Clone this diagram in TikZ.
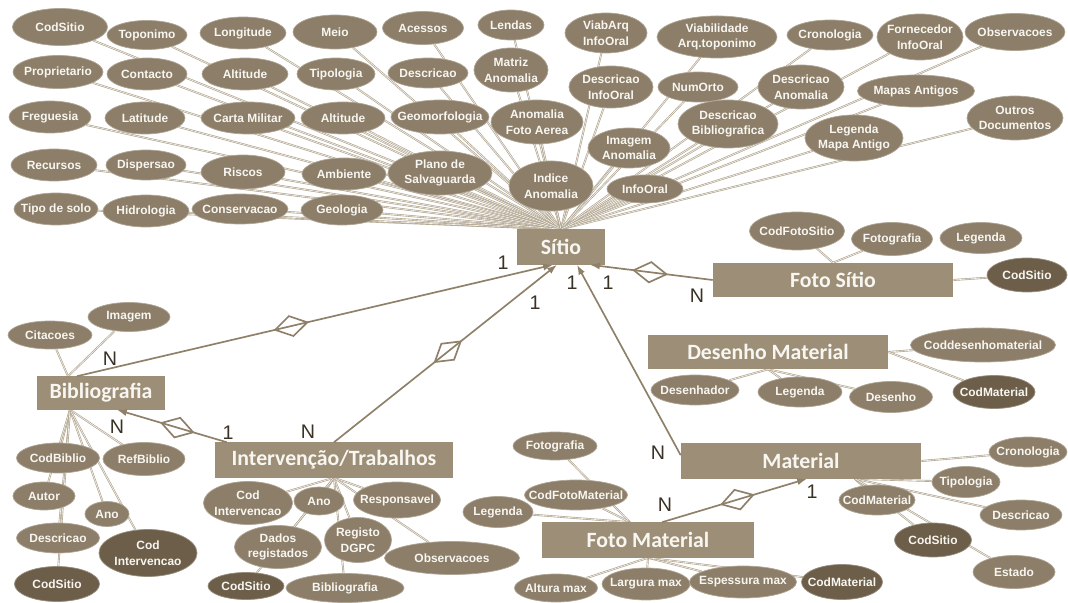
\documentclass[tikz,border=0pt]{standalone}
\usepackage{fontspec}
\setmainfont{Liberation Sans}
\newfontfamily\entfont{Carlito}
\usetikzlibrary{shapes.geometric, arrows.meta, backgrounds, calc}

\definecolor{attrfill}{HTML}{8C7E68}
\definecolor{keyfill}{HTML}{6C5E49}
\definecolor{entfill}{HTML}{9D8F77}
\definecolor{lighttext}{HTML}{F8F6F1}
\definecolor{attrline}{HTML}{AFA38C}
\definecolor{relline}{HTML}{8F8169}
\definecolor{cardtext}{HTML}{3A3225}

\tikzset{
  sz/.style 2 args={minimum width={#1*0.7113pt}, minimum height={#2*0.7113pt}},
  attr/.style={ellipse, fill=attrfill, draw=attrfill!70!white, line width=0.5pt,
    text=lighttext, inner xsep=-12pt, inner ysep=0pt, align=center,
    font=\fontsize{8.5}{11}\selectfont\bfseries},
  keyattr/.style={attr, fill=keyfill, draw=keyfill!70!white},
  entity/.style={rectangle, fill=entfill, text=lighttext, inner sep=0pt,
    font=\entfont\fontsize{15.5}{18}\selectfont\bfseries},
  link/.style={draw=attrline, line width=0.45pt, double=white!85!attrline, double distance=0.45pt},
  rel/.style={relline, line width=1.2pt},
  relbox/.style={diamond, draw=relline, line width=1.2pt, inner sep=0pt,
    minimum width=24pt, minimum height=15pt, sloped},
  card/.style={text=cardtext, font=\fontsize{14}{14}\selectfont},
}

\begin{document}
\begin{tikzpicture}[x=0.025cm, y=-0.025cm]
\useasboundingbox (0,0) rectangle (1068,603);

% entities
\node[entity, sz={88}{35}] (Sitio) at (561,247) {Sítio};
\node[entity, sz={240}{34}] (FotoSitio) at (833,280) {Foto Sítio};
\node[entity, sz={128}{33}] (Biblio) at (101,393) {Bibliografia};
\node[entity, sz={238}{35}] (Interv) at (334,460) {Intervenção/Trabalhos};
\node[entity, sz={240}{34}] (DesMat) at (768,352) {Desenho Material};
\node[entity, sz={240}{35}] (Mat) at (801,461) {Material};
\node[entity, sz={212}{35}] (FotoMat) at (648,540) {Foto Material};

% Sitio attributes
\node[attr, sz={95}{37}] (s1) at (60,27) {CodSitio};
\node[attr, sz={80}{29}] (s2) at (147,35) {Toponimo};
\node[attr, sz={86}{32}] (s3) at (243,33) {Longitude};
\node[attr, sz={84}{34}] (s4) at (335,32) {Meio};
\node[attr, sz={81}{33}] (s5) at (423,28) {Acessos};
\node[attr, sz={66}{30}] (s6) at (511,25) {Lendas};
\node[attr, sz={82}{40}] (s7) at (606,33) {ViabArq\\InfoOral};
\node[attr, sz={120}{42}] (s8) at (717,37) {Viabilidade\\Arq.toponimo};
\node[attr, sz={86}{30}] (s9) at (830,35) {Cronologia};
\node[attr, sz={86}{46}] (s10) at (920,37) {Fornecedor\\InfoOral};
\node[attr, sz={100}{37}] (s11) at (1015,32) {Observacoes};
\node[attr, sz={90}{33}] (s12) at (58,72) {Proprietario};
\node[attr, sz={80}{32}] (s13) at (147,74) {Contacto};
\node[attr, sz={86}{32}] (s14) at (245,74) {Altitude};
\node[attr, sz={78}{32}] (s15) at (336,74) {Tipologia};
\node[attr, sz={80}{30}] (s16) at (428,73) {Descricao};
\node[attr, sz={74}{44}] (s17) at (511,70) {Matriz\\Anomalia};
\node[attr, sz={84}{42}] (s18) at (611,87) {Descricao\\InfoOral};
\node[attr, sz={80}{30}] (s19) at (698,87) {NumOrto};
\node[attr, sz={86}{44}] (s20) at (801,87) {Descricao\\Anomalia};
\node[attr, sz={117}{32}] (s21) at (916,91) {Mapas Antigos};
\node[attr, sz={96}{44}] (s22) at (1015,118) {Outros\\Documentos};
\node[attr, sz={82}{32}] (s23) at (50,117) {Freguesia};
\node[attr, sz={80}{32}] (s24) at (145,118) {Latitude};
\node[attr, sz={94}{32}] (s25) at (248,118) {Carta Militar};
\node[attr, sz={84}{32}] (s26) at (343,118) {Altitude};
\node[attr, sz={98}{34}] (s27) at (440,117) {Geomorfologia};
\node[attr, sz={92}{44}] (s28) at (537,122) {Anomalia\\Foto Aerea};
\node[attr, sz={82}{40}] (s29) at (629,148) {Imagem\\Anomalia};
\node[attr, sz={100}{48}] (s30) at (728,124) {Descricao\\Bibliografica};
\node[attr, sz={98}{46}] (s31) at (854,138) {Legenda\\Mapa Antigo};
\node[attr, sz={86}{32}] (s32) at (54,165) {Recursos};
\node[attr, sz={80}{30}] (s33) at (146,165) {Dispersao};
\node[attr, sz={84}{34}] (s34) at (243,172) {Riscos};
\node[attr, sz={84}{32}] (s35) at (344,174) {Ambiente};
\node[attr, sz={104}{44}] (s36) at (440,173) {Plano de\\Salvaguarda};
\node[attr, sz={84}{50}] (s37) at (551,186) {Indice\\Anomalia};
\node[attr, sz={76}{28}] (s38) at (645,189) {InfoOral};
\node[attr, sz={84}{32}] (s39) at (56,209) {Tipo de solo};
\node[attr, sz={86}{32}] (s40) at (146,211) {Hidrologia};
\node[attr, sz={96}{30}] (s41) at (240,209) {Conservacao};
\node[attr, sz={82}{30}] (s42) at (342,210) {Geologia};

% Foto Sitio attributes
\node[attr, sz={95}{38}] (f1) at (797,231) {CodFotoSitio};
\node[attr, sz={81}{33}] (f2) at (892,239) {Fotografia};
\node[attr, sz={82}{31}] (f3) at (981,238) {Legenda};
\node[keyattr, sz={80}{34}] (f4) at (1027,275) {CodSitio};

% Bibliografia attributes
\node[attr, sz={84}{28}] (b8) at (50,335) {Citacoes};
\node[attr, sz={82}{29}] (b9) at (129,317) {Imagem};
\node[attr, sz={83}{30}] (b1) at (58,458) {CodBiblio};
\node[attr, sz={82}{33}] (b2) at (144,459) {RefBiblio};
\node[attr, sz={62}{28}] (b3) at (44,496) {Autor};
\node[attr, sz={44}{25}] (b4) at (107,514) {Ano};
\node[attr, sz={83}{30}] (b5) at (58,538) {Descricao};
\node[keyattr, sz={98}{47}] (b6) at (148,553) {Cod\\Intervencao};
\node[keyattr, sz={85}{35}] (b7) at (57,584) {CodSitio};

% Intervencao attributes
\node[attr, sz={89}{43}] (i1) at (248,503) {Cod\\Intervencao};
\node[attr, sz={50}{28}] (i2) at (319,501) {Ano};
\node[attr, sz={87}{36}] (i3) at (397,500) {Responsavel};
\node[attr, sz={87}{43}] (i4) at (278,547) {Dados\\registados};
\node[attr, sz={67}{45}] (i5) at (358,540) {Registo\\DGPC};
\node[attr, sz={135}{33}] (i6) at (452,558) {Observacoes};
\node[keyattr, sz={76}{27}] (i7) at (246,586) {CodSitio};
\node[attr, sz={118}{29}] (i8) at (345,588) {Bibliografia};

% Desenho Material attributes
\node[attr, sz={145}{34}] (d1) at (983,345) {Coddesenhomaterial};
\node[keyattr, sz={82}{33}] (d2) at (994,392) {CodMaterial};
\node[attr, sz={88}{30}] (d3) at (695,390) {Desenhador};
\node[attr, sz={84}{30}] (d4) at (800,392) {Legenda};
\node[attr, sz={83}{31}] (d5) at (891,397) {Desenho};

% Material attributes
\node[attr, sz={78}{30}] (m1) at (1028,452) {Cronologia};
\node[attr, sz={68}{31}] (m2) at (966,482) {Tipologia};
\node[attr, sz={76}{30}] (m3) at (877,500) {CodMaterial};
\node[attr, sz={82}{30}] (m4) at (1021,515) {Descricao};
\node[keyattr, sz={77}{34}] (m5) at (933,540) {CodSitio};
\node[attr, sz={82}{33}] (m6) at (1014,572) {Estado};

% Foto Material attributes
\node[attr, sz={84}{28}] (p1) at (555,446) {Fotografia};
\node[attr, sz={103}{30}] (p2) at (576,495) {CodFotoMaterial};
\node[attr, sz={70}{31}] (p3) at (498,512) {Legenda};
\node[attr, sz={83}{28}] (p4) at (556,588) {Altura max};
\node[attr, sz={88}{32}] (p5) at (646,584) {Largura max};
\node[attr, sz={107}{32}] (p6) at (743,582) {Espessura max};
\node[keyattr, sz={81}{35}] (p7) at (842,582) {CodMaterial};

\coordinate (bibtop) at ($(Biblio.north)+(-33,0)$);
\coordinate (bibbot) at ($(Biblio.south)+(-31,0)$);
\coordinate (matbot) at ($(Mat.south)+(54,0)$);
\coordinate (fmtop) at ($(FotoMat.north)+(-18,0)$);

\begin{pgfonlayer}{background}
\foreach \i in {1,...,42} \draw[link] (s\i) -- (Sitio.north);
\foreach \i in {1,2} \draw[link] (f\i) -- (FotoSitio.north);
\draw[link] (f4) -- (FotoSitio.east);
\foreach \i in {8,9} \draw[link] (b\i) -- (bibtop);
\foreach \i in {1,...,7} \draw[link] (b\i) -- (bibbot);
\foreach \i in {1,...,8} \draw[link] (i\i) -- (Interv.south);
\foreach \i in {1,2} \draw[link] (d\i) -- (DesMat.east);
\foreach \i in {3,4,5} \draw[link] (d\i) -- (DesMat.south);
\draw[link] (m1) -- (Mat.east);
\foreach \i in {2,...,6} \draw[link] (m\i) -- (matbot);
\foreach \i in {1,2,3} \draw[link] (p\i) -- (fmtop);
\foreach \i in {4,...,7} \draw[link] (p\i) -- (FotoMat.south);
\end{pgfonlayer}

% relationships
\draw[rel, -{Latex[length=7pt, width=5pt]}] ($(Biblio.north)+(-24,0)$) -- node[relbox, pos=0.45] (r1) {} ($(Sitio.south)+(-8,0)$);
\draw[rel, -{Latex[length=7pt, width=5pt]}] (Interv.north) -- node[relbox, pos=0.51] (r2) {} ($(Sitio.south)+(-4,0)$);
\draw[rel, -{Latex[length=7pt, width=5pt]}] ($(Mat.north west)+(0,12)$) -- ($(Sitio.south)+(16,0)$);
\draw[rel, -{Latex[length=7pt, width=5pt]}] (FotoSitio.west) -- node[relbox, pos=0.51] (r3) {} ($(Sitio.south)+(29,0)$);
\draw[rel, -{Latex[length=7pt, width=5pt]}] ($(Interv.north west)+(12,0)$) -- node[relbox, pos=0.45] (r4) {} ($(Biblio.south)+(16,0)$);
\draw[rel, -{Latex[length=7pt, width=5pt]}] ($(FotoMat.north)+(14,0)$) -- node[relbox, pos=0.52] (r5) {} ($(Mat.south)+(6,0)$);

% cardinalities
\node[card] (c1) at (503,263) {1};
\node[card] (c2) at (110,359) {N};
\node[card] (c3) at (535,303) {1};
\node[card] (c4) at (308,432) {N};
\node[card] (c5) at (572,283) {1};
\node[card] (c6) at (658,453) {N};
\node[card] (c7) at (608,283) {1};
\node[card] (c8) at (697,296) {N};
\node[card] (c9) at (117,427) {N};
\node[card] (c10) at (228,433) {1};
\node[card] (c11) at (665,505) {N};
\node[card] (c12) at (812,492) {1};
\end{tikzpicture}
\end{document}
